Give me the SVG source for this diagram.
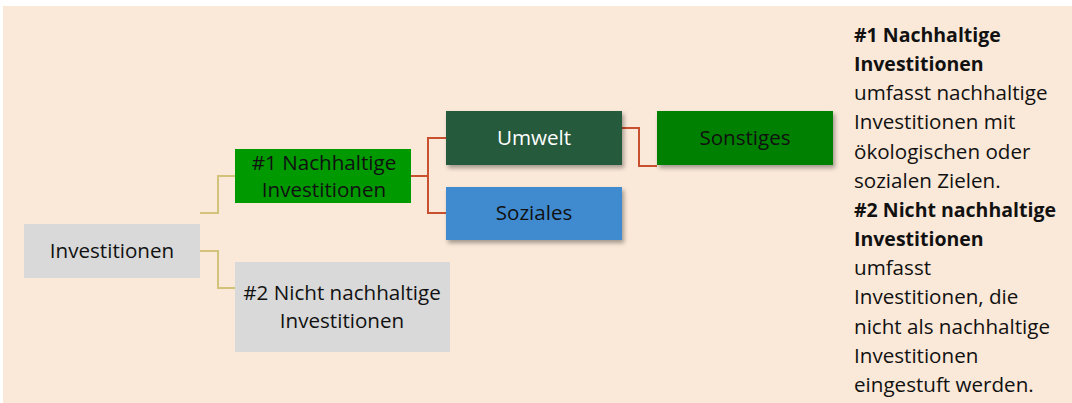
<svg xmlns="http://www.w3.org/2000/svg" width="1072" height="403" viewBox="0 0 1072 403">
  <defs>
    <filter id="sh" x="-10%" y="-20%" width="130%" height="160%">
      <feDropShadow dx="2" dy="3" stdDeviation="2" flood-color="#000" flood-opacity="0.35"/>
    </filter>
  </defs>
  <style>
    text { font-variant-ligatures: none; }
    .t { font-family: "Open Sans", "Liberation Sans", sans-serif; font-size: 20.6px; fill: #111; text-anchor: middle; }
    .w { fill: #ffffff; }
    .side { font-family: "Open Sans", "Liberation Sans", sans-serif; font-size: 20.6px; fill: #111; }
    .b { font-weight: bold; font-size: 19.5px; }
    .c1 { fill: none; stroke: #d2c27a; stroke-width: 2; }
    .c2 { fill: none; stroke: #c9502e; stroke-width: 2; }
  </style>
  <rect x="3" y="6" width="1069" height="397" fill="#fae8d8"/>

  <g id="connectors">
    <polyline class="c1" points="200,213 218,213 218,176 235,176"/>
    <polyline class="c1" points="200,251 218,251 218,288 235,288"/>
    <polyline class="c2" points="411,176 428,176"/>
    <polyline class="c2" points="446,138 428,138 428,213 446,213"/>
    <polyline class="c2" points="622,128 639,128 639,166 657,166"/>
  </g>

  <g id="investitionen">
    <rect x="24" y="224" width="176" height="54" fill="#d9d9d9"/>
    <text class="t" x="112" y="258">Investitionen</text>
  </g>
  <g id="nachhaltig">
    <rect x="235" y="149" width="176" height="54" fill="#009900"/>
    <text class="t" x="324" y="170">#1 Nachhaltige</text>
    <text class="t" x="324" y="197">Investitionen</text>
  </g>
  <g id="nicht-nachhaltig">
    <rect x="235" y="262" width="215" height="90" fill="#d9d9d9"/>
    <text class="t" x="342" y="300">#2 Nicht nachhaltige</text>
    <text class="t" x="342" y="328">Investitionen</text>
  </g>
  <g id="umwelt">
    <rect x="446" y="111" width="176" height="54" fill="#255a3c" filter="url(#sh)"/>
    <text class="t w" x="534" y="145">Umwelt</text>
  </g>
  <g id="soziales">
    <rect x="446" y="187" width="176" height="53" fill="#3f8bd0" filter="url(#sh)"/>
    <text class="t" x="534" y="220">Soziales</text>
  </g>
  <g id="sonstiges">
    <rect x="657" y="111" width="176" height="54" fill="#008000" filter="url(#sh)"/>
    <text class="t" x="745" y="145">Sonstiges</text>
  </g>

  <g id="legend">
    <text class="side b" x="854" y="42">#1 Nachhaltige</text>
    <text class="side b" x="854" y="71">Investitionen</text>
    <text class="side" x="854" y="100">umfasst nachhaltige</text>
    <text class="side" x="854" y="129">Investitionen mit</text>
    <text class="side" x="854" y="159">ökologischen oder</text>
    <text class="side" x="854" y="188">sozialen Zielen.</text>
    <text class="side b" x="854" y="217">#2 Nicht nachhaltige</text>
    <text class="side b" x="854" y="246">Investitionen</text>
    <text class="side" x="854" y="275">umfasst</text>
    <text class="side" x="854" y="304">Investitionen, die</text>
    <text class="side" x="854" y="334">nicht als nachhaltige</text>
    <text class="side" x="854" y="363">Investitionen</text>
    <text class="side" x="854" y="392">eingestuft werden.</text>
  </g>
</svg>
